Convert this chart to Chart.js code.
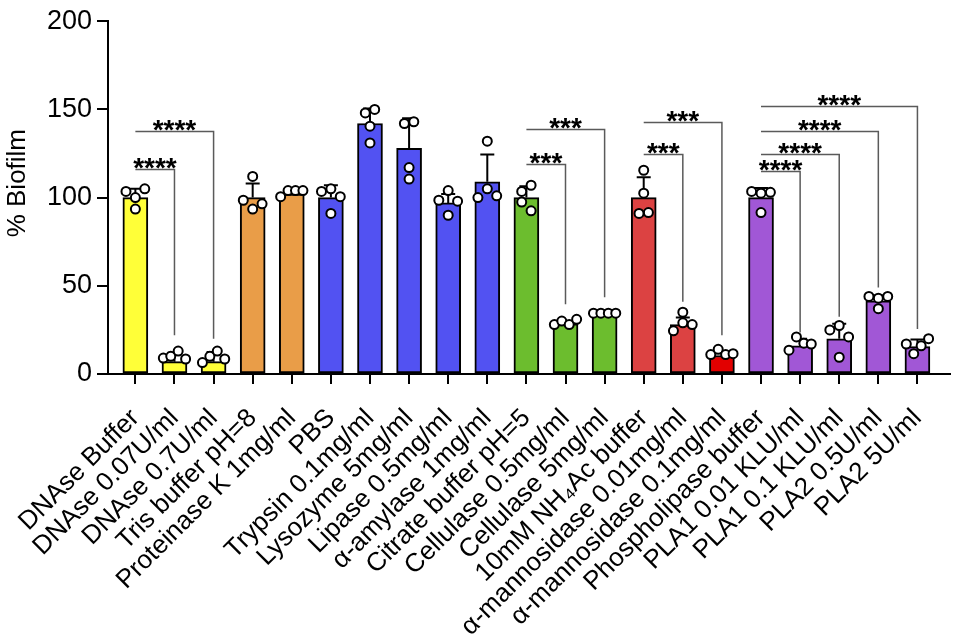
<!DOCTYPE html>
<html>
<head>
<meta charset="utf-8">
<script src="https://cdn.jsdelivr.net/npm/chart.js@4.4.1/dist/chart.umd.min.js"></script>
<style>
  html, body { margin: 0; padding: 0; background: #fff; }
  #wrap { width: 956px; height: 643px; position: relative; }
</style>
</head>
<body>
<div id="wrap"><canvas id="chartBiofilm"></canvas></div>
<script>
// categories and values
const categories = [
    'DNAse Buffer', 'DNAse 0.07U/ml', 'DNAse 0.7U/ml', 'Tris buffer pH=8',
    'Proteinase K 1mg/ml', 'PBS', 'Trypsin 0.1mg/ml', 'Lysozyme 5mg/ml',
    'Lipase 0.5mg/ml', 'α-amylase 1mg/ml', 'Citrate buffer pH=5',
    'Cellulase 0.5mg/ml', 'Cellulase 5mg/ml', '10mM NH\u2084Ac buffer',
    'α-mannosidase 0.01mg/ml', 'α-mannosidase 0.1mg/ml', 'Phospholipase buffer',
    'PLA1 0.01 KLU/ml', 'PLA1 0.1 KLU/ml', 'PLA2 0.5U/ml', 'PLA2 5U/ml'
];
const means = [100, 7, 7, 100, 102, 100, 142, 128, 97, 109, 100, 28.5, 33.5, 100, 28, 10.5, 100, 16, 20, 41.5, 15.5];
const sd = [5, 5, 5.5, 8, 1.5, 7, 8.5, 17, 5, 15.5, 6.5, 1.5, 0.8, 11.5, 4, 2, 5.5, 4, 8.5, 3, 4];
const replicates = [
    [103.5, 100, 105, 93.5],
    [9, 10, 13, 8.5],
    [6.5, 10, 13, 8.5],
    [98.5, 93.5, 112, 96.5],
    [100.5, 104, 104, 104],
    [103.5, 105, 100.5, 91],
    [148, 140.5, 131, 150],
    [142, 117, 110.5, 143],
    [98.5, 104, 90, 98],
    [100, 105, 132, 101],
    [103.5, 97.5, 92.5, 107],
    [28, 30, 28, 31],
    [34.5, 34.5, 34.5, 34.5],
    [91, 115.5, 102.5, 91.5],
    [24.5, 29, 35, 28],
    [11, 14, 11, 11.5],
    [103.5, 102.5, 91.5, 103],
    [13.5, 21, 17.5, 17],
    [25, 9.5, 27.5, 21],
    [44, 43, 37, 44],
    [17, 11.5, 16, 20]
];
const barColors = [
    '#ffff38', '#ffff38', '#ffff38', '#e99d48', '#e99d48',
    '#5252f2', '#5252f2', '#5252f2', '#5252f2', '#5252f2',
    '#6cbd2e', '#6cbd2e', '#6cbd2e', '#dc4242', '#dc4242', '#e20000',
    '#a157d6', '#a157d6', '#a157d6', '#a157d6', '#a157d6'
];

// significance brackets: control bar, treated bar, bracket height, drop end, stars
const sigFrom = [0, 0, 10, 10, 13, 13, 16, 16, 16, 16];
const sigTo = [1, 2, 11, 12, 14, 15, 17, 18, 19, 20];
const sigLevel = [116, 137.5, 119, 139, 125, 143, 115, 125, 138, 152];
const sigDrop = [22, 20, 39.5, 43.5, 41, 22, 23.5, 32.5, 49, 25.5];
const sigText = ['****', '****', '***', '***', '***', '***', '****', '****', '****', '****'];

const FONT = '"Liberation Sans", Arial, Helvetica, sans-serif';

// spread replicate dots sideways when they would overlap (simple swarm)
function swarm(vals, idx) {
    const order = vals.map((v, k) => k).sort((a, b) => vals[a] - vals[b]);
    const groups = [];
    let cur = [];
    order.forEach(k => {
        if (cur.length && vals[k] - vals[cur[cur.length - 1]] > 5.5) {
            groups.push(cur);
            cur = [];
        }
        cur.push(k);
    });
    if (cur.length) groups.push(cur);
    const pts = [];
    groups.forEach(g => {
        g.sort((a, b) => a - b);
        const w = g.length >= 4 ? 0.19 : 0.24;
        g.forEach((k, j) => pts.push({ x: idx + (j - (g.length - 1) / 2) * w, y: vals[k] }));
    });
    return pts;
}

const dotData = [];
replicates.forEach((r, i) => dotData.push(...swarm(r, i)));

const errorBars = {
    id: 'errorBars',
    afterDatasetDraw(chart, args) {
        if (args.index !== 0) return;
        const { ctx, scales: { x, y } } = chart;
        ctx.save();
        ctx.strokeStyle = '#000';
        ctx.lineWidth = 2;
        means.forEach((m, i) => {
            const px = x.getPixelForValue(i);
            const y0 = y.getPixelForValue(m);
            const y1 = y.getPixelForValue(m + sd[i]);
            ctx.beginPath();
            ctx.moveTo(px, y0);
            ctx.lineTo(px, y1);
            ctx.moveTo(px - 7, y1);
            ctx.lineTo(px + 7, y1);
            ctx.stroke();
        });
        ctx.restore();
    }
};

const brackets = {
    id: 'brackets',
    afterDraw(chart) {
        const { ctx, scales: { x, y } } = chart;
        ctx.save();
        ctx.strokeStyle = '#5a5a5a';
        ctx.lineWidth = 1.5;
        ctx.fillStyle = '#000';
        ctx.font = 'bold 28px ' + FONT;
        ctx.textAlign = 'center';
        ctx.textBaseline = 'alphabetic';
        sigFrom.forEach((a, k) => {
            const xa = x.getPixelForValue(a);
            const xb = x.getPixelForValue(sigTo[k]);
            const yl = Math.round(y.getPixelForValue(sigLevel[k])) + 0.5;
            const yd = y.getPixelForValue(sigDrop[k]);
            ctx.beginPath();
            ctx.moveTo(xa, yl);
            ctx.lineTo(xb, yl);
            ctx.lineTo(xb, yd);
            ctx.stroke();
            ctx.fillText(sigText[k], (xa + xb) / 2, yl + 7);
        });
        ctx.restore();
    }
};

new Chart(document.getElementById('chartBiofilm').getContext('2d'), {
    type: 'bar',
    data: {
        datasets: [{
            data: means.map((v, i) => ({ x: i, y: v })),
            backgroundColor: barColors,
            borderColor: '#000',
            borderWidth: 2,
            borderSkipped: false,
            barThickness: 25,
            order: 2
        }, {
            type: 'scatter',
            data: dotData,
            pointRadius: 4.5,
            pointBorderWidth: 2,
            pointBackgroundColor: '#fff',
            pointBorderColor: '#000',
            order: 1
        }]
    },
    options: {
        responsive: true,
        maintainAspectRatio: false,
        animation: false,
        layout: { padding: { top: 18, left: 0, right: 4, bottom: 0 } },
        plugins: {
            legend: { display: false },
            tooltip: { enabled: false }
        },
        scales: {
            x: {
                type: 'linear',
                offset: false,
                min: -0.7,
                max: 20.82,
                afterBuildTicks: axis => { axis.ticks = categories.map((c, i) => ({ value: i })); },
                afterFit: scale => {
                    scale.height = 269;
                    scale.paddingLeft = 0;
                    scale.paddingRight = 0;
                },
                grid: { offset: false, drawOnChartArea: false, drawTicks: true, tickLength: 10, color: '#000', lineWidth: 2 },
                border: { display: true, color: '#000', width: 2 },
                ticks: {
                    autoSkip: false,
                    maxRotation: 45,
                    minRotation: 45,
                    padding: 19,
                    color: '#000',
                    font: { family: FONT, size: 26 },
                    callback: (v, i) => categories[i]
                }
            },
            y: {
                min: 0,
                max: 200,
                afterFit: scale => { scale.width = 108; },
                grid: { drawOnChartArea: false, drawTicks: true, tickLength: 11, color: '#000', lineWidth: 2 },
                border: { display: true, color: '#000', width: 2 },
                ticks: {
                    stepSize: 50,
                    padding: 5,
                    color: '#000',
                    font: { family: FONT, size: 27 }
                },
                title: {
                    display: true,
                    // leading spaces lift the title a little above the axis middle, as in the figure
                    text: '    % Biofilm',
                    color: '#000',
                    padding: { top: 2, bottom: 0 },
                    font: { family: FONT, size: 26 }
                }
            }
        }
    },
    plugins: [errorBars, brackets]
});
</script>
</body>
</html>
